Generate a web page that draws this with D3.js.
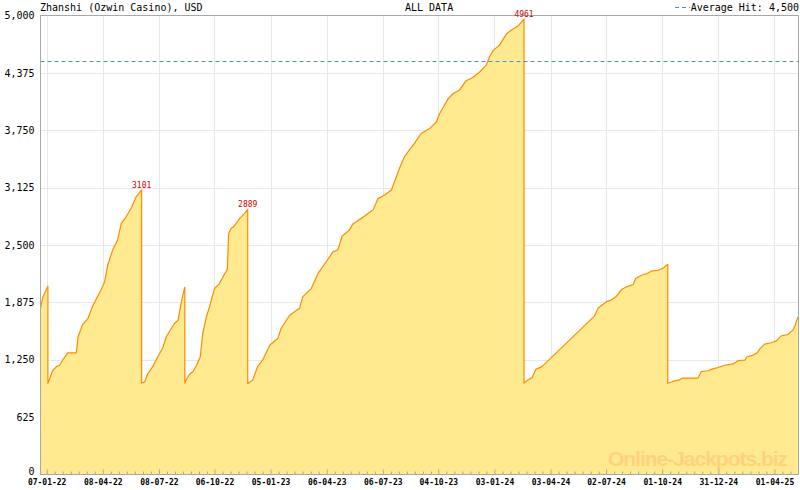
<!DOCTYPE html>
<html><head><meta charset="utf-8">
<script src="https://cdn.jsdelivr.net/npm/d3@7/dist/d3.min.js"></script>
<style>html,body{margin:0;padding:0;background:#fff;}</style>
</head><body>
<svg id="chart" width="800" height="490"></svg>
<script>
const title = "Zhanshi (Ozwin Casino), USD";
const subtitle = "ALL DATA";
const averageHit = 4500;
const averageLabel = "Average Hit: 4,500";
const watermark = "Online-Jackpots.biz";

const dates = [
"2021-12-28","2022-01-01","2022-01-09","2022-01-09",
"2022-01-12","2022-01-17","2022-01-23","2022-01-28","2022-02-02","2022-02-10","2022-02-24","2022-02-27",
"2022-03-06","2022-03-15","2022-03-21","2022-03-29","2022-04-05","2022-04-11","2022-04-16","2022-04-24",
"2022-05-02","2022-05-08","2022-05-16","2022-05-24","2022-06-01","2022-06-10","2022-06-10",
"2022-06-15","2022-06-20","2022-06-28","2022-07-06","2022-07-14","2022-07-20","2022-07-28","2022-08-02",
"2022-08-08","2022-08-13","2022-08-17","2022-08-19","2022-08-19",
"2022-08-21","2022-08-27","2022-09-01","2022-09-07","2022-09-13","2022-09-17","2022-09-23","2022-09-28",
"2022-10-06","2022-10-14","2022-10-20","2022-10-26","2022-10-27","2022-10-29","2022-11-02","2022-11-07",
"2022-11-16","2022-11-24","2022-11-29","2022-11-29",
"2022-12-07","2022-12-15","2022-12-23","2023-01-04","2023-01-17","2023-01-22","2023-02-05","2023-02-21",
"2023-02-26","2023-03-12","2023-03-23","2023-04-05","2023-04-16","2023-04-24","2023-05-01","2023-05-13",
"2023-05-18","2023-06-03","2023-06-20","2023-06-28","2023-07-09","2023-07-20","2023-07-25","2023-08-02",
"2023-08-10","2023-08-18","2023-08-26","2023-09-06","2023-09-20","2023-10-01","2023-10-06","2023-10-20",
"2023-10-28","2023-11-07","2023-11-18","2023-11-29","2023-12-10","2023-12-21","2023-12-26","2024-01-01",
"2024-01-11","2024-01-22","2024-01-30","2024-02-10","2024-02-20","2024-02-20",
"2024-02-26","2024-03-04","2024-03-10","2024-03-20","2024-06-13","2024-06-19","2024-07-02","2024-07-10",
"2024-07-18","2024-07-27","2024-08-06","2024-08-15","2024-08-19","2024-08-28","2024-09-05","2024-09-13",
"2024-09-24","2024-10-02","2024-10-10","2024-10-10",
"2024-10-15","2024-10-21","2024-10-29","2024-11-02","2024-11-28","2024-12-03","2024-12-14","2024-12-22",
"2024-12-30","2025-01-10","2025-01-24","2025-02-01","2025-02-12","2025-02-15","2025-02-25","2025-03-04",
"2025-03-08","2025-03-16","2025-03-27","2025-04-04","2025-04-12","2025-04-23","2025-05-01","2025-05-05",
"2025-05-08","2025-05-09"
];
const values = [
1810,1935,2050,995,
1045,1135,1175,1190,1245,1325,1325,1500,
1630,1700,1810,1920,2010,2100,2280,2445,
2555,2735,2810,2900,3025,3101,995,
1010,1100,1175,1280,1375,1500,1590,1645,
1680,1865,1990,2040,995,
1030,1095,1120,1190,1280,1535,1720,1825,
2025,2080,2155,2225,2240,2625,2680,2705,
2790,2845,2889,990,
1030,1175,1245,1410,1485,1590,1735,1810,
1935,2025,2190,2315,2425,2445,2595,2665,
2725,2800,2880,3005,3045,3100,3190,3335,
3460,3535,3605,3715,3770,3840,3930,4095,
4150,4185,4290,4325,4385,4460,4550,4620,
4675,4795,4840,4885,4961,995,
1030,1055,1145,1175,1725,1810,1880,1900,
1935,2015,2050,2070,2135,2170,2185,2215,
2225,2245,2290,995,
1005,1020,1030,1050,1050,1120,1130,1150,
1165,1190,1205,1240,1245,1280,1300,1325,
1365,1420,1435,1455,1510,1525,1575,1630,
1695,1715
];
const peakDates = ["2022-06-10","2022-11-29","2024-02-20"];
const peakValues = [3101,2889,4961];
const peakLabels = ["3101","2889","4961"];

const yTicks = [0,625,1250,1875,2500,3125,3750,4375,5000];
const xTickDates = ["2022-01-07","2022-04-08","2022-07-08","2022-10-06","2023-01-05","2023-04-06","2023-07-06",
"2023-10-04","2024-01-03","2024-04-03","2024-07-02","2024-10-01","2024-12-31","2025-04-01"];
const domainStart = "2021-12-28", domainEnd = "2025-05-10";

const parse = d3.timeParse("%Y-%m-%d");
const fmt = d3.timeFormat("%d-%m-%y");
const svg = d3.select("#chart");
const L = 40.5, R = 798.5, T = 15.5, B = 474.5;
const x = d3.scaleTime().domain([parse(domainStart), parse(domainEnd)]).range([L, R]);
const y = d3.scaleLinear().domain([0, 5000]).range([B, T]);
const data = dates.map((d, i) => ({date: parse(d), value: values[i]}));
const grey = "#a8a8a8";
const mono = "'DejaVu Sans Mono', monospace";

svg.append("rect").attr("width", 800).attr("height", 490).attr("fill", "#fff");

// grid
const majors = xTickDates.map(parse);
svg.append("g").selectAll("line.v").data(majors).join("line")
  .attr("x1", d => Math.round(x(d)) + 0.5).attr("x2", d => Math.round(x(d)) + 0.5)
  .attr("y1", T).attr("y2", B).attr("stroke", "#e8e8e8");
svg.append("g").selectAll("line.h").data(yTicks.slice(1, -1)).join("line")
  .attr("x1", L).attr("x2", R)
  .attr("y1", d => Math.round(y(d)) + 0.5).attr("y2", d => Math.round(y(d)) + 0.5)
  .attr("stroke", "#e8e8e8");

// area + line
const area = d3.area().x(d => x(d.date)).y0(y(0)).y1(d => y(d.value));
const line = d3.line().x(d => x(d.date)).y(d => y(d.value));
svg.append("path").datum(data).attr("d", area).attr("fill", "#FFEA90");

// watermark
svg.append("text").attr("x", 788).attr("y", 466).attr("text-anchor", "end")
  .attr("font-family", "'Liberation Sans', Arial, sans-serif").attr("font-weight", "bold")
  .attr("font-size", 21).attr("textLength", 180).attr("fill", "#FFD27C").text(watermark);

svg.append("path").datum(data).attr("d", line).attr("fill", "none")
  .attr("stroke", "#FF8C00").attr("stroke-width", 1.2).attr("stroke-linejoin", "round");

// average line
svg.append("line").attr("x1", L).attr("x2", R).attr("y1", Math.round(y(averageHit)) + 0.5)
  .attr("y2", Math.round(y(averageHit)) + 0.5)
  .attr("stroke", "#3d94c8").attr("stroke-dasharray", "4,3");

// frame
svg.append("rect").attr("x", L).attr("y", T).attr("width", R - L).attr("height", B - T)
  .attr("fill", "none").attr("stroke", grey);

// x ticks (major + minor)
const minors = [];
majors.forEach(m => { for (let j = 1; j <= 6; j++) minors.push(d3.timeDay.offset(m, j * 13)); });
const xAxis = d3.axisBottom(x).tickValues(majors).tickFormat(fmt).tickSize(-5).tickSizeOuter(0);
const gx = svg.append("g").attr("transform", `translate(0,${B})`).call(xAxis);
gx.select(".domain").remove();
gx.selectAll(".tick line").attr("stroke", grey);
gx.selectAll(".tick text").attr("y", 10.5).attr("dy", null).attr("font-family", mono).attr("font-size", 8)
  .attr("font-weight", "bold").attr("fill", "#000");
const xMinor = d3.axisBottom(x).tickValues(minors.filter(d => x(d) < R)).tickFormat("").tickSize(-3).tickSizeOuter(0);
const gxm = svg.append("g").attr("transform", `translate(0,${B})`).call(xMinor);
gxm.select(".domain").remove();
gxm.selectAll(".tick line").attr("stroke", grey);

// y labels
const yAxis = d3.axisLeft(y).tickValues(yTicks).tickFormat(d3.format(",")).tickSize(0).tickPadding(6);
const gy = svg.append("g").attr("transform", `translate(${L},0)`).call(yAxis);
gy.select(".domain").remove();
gy.selectAll(".tick text").attr("font-family", mono).attr("font-size", 10).attr("fill", "#000")
  .attr("y", d => d === 0 ? -3 : 0);

// peak labels
svg.append("g").selectAll("text").data(peakDates).join("text")
  .attr("x", d => x(parse(d))).attr("y", (d, i) => y(peakValues[i]) - 2)
  .attr("text-anchor", "middle").attr("font-family", mono).attr("font-size", 8)
  .attr("fill", "#CC0000").text((d, i) => peakLabels[i]);

// titles
svg.append("text").attr("x", 40).attr("y", 11).attr("font-family", mono).attr("font-size", 10)
  .attr("fill", "#000").text(title);
svg.append("text").attr("x", 405).attr("y", 11).attr("font-family", mono).attr("font-size", 10)
  .attr("fill", "#000").text(subtitle);
svg.append("text").attr("x", 799).attr("y", 11).attr("text-anchor", "end").attr("font-family", mono)
  .attr("font-size", 10).attr("fill", "#000").text(averageLabel);
svg.append("line").attr("x1", 675).attr("x2", 690).attr("y1", 7.5).attr("y2", 7.5)
  .attr("stroke", "#3d94c8").attr("stroke-dasharray", "4,3");
</script>
</body></html>
